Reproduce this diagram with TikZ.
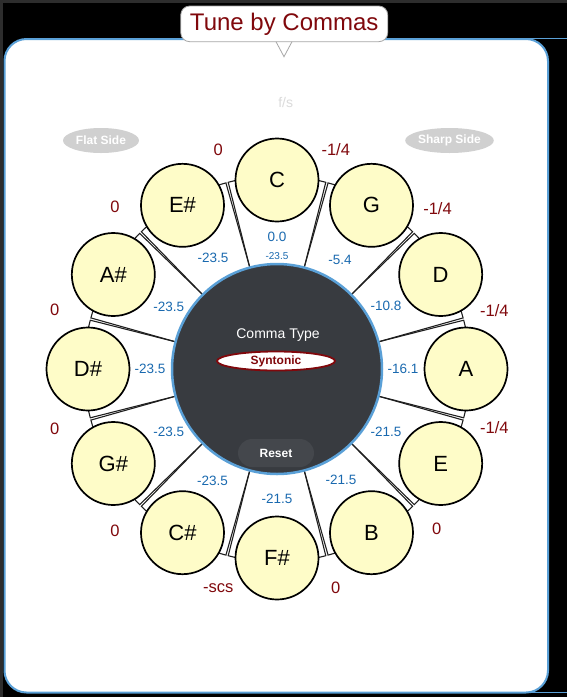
\documentclass[tikz,border=0pt]{standalone}
\usepackage{fontspec}
\setmainfont{Liberation Sans}
\usetikzlibrary{shapes.geometric,calc}
\definecolor{tbred}{RGB}{128,8,12}
\definecolor{tbblue}{RGB}{25,105,175}
\definecolor{notefill}{RGB}{254,252,200}
\definecolor{hubfill}{RGB}{56,59,64}
\definecolor{resetgray}{RGB}{68,71,76}
\definecolor{rimblue}{RGB}{90,160,215}
\definecolor{btngray}{RGB}{208,208,208}
\definecolor{framegray}{RGB}{45,45,45}
\begin{document}
\begin{tikzpicture}[x=1pt,y=-1pt,
  notec/.style={circle, draw=black, line width=1.7pt, fill=notefill, minimum size=83pt, inner sep=0pt, font=\fontsize{22}{24}\selectfont},
  redlab/.style={text=tbred, font=\fontsize{16.5}{18}\selectfont, inner sep=0pt},
  bluelab/.style={text=tbblue, font=\fontsize{13.5}{15}\selectfont, inner sep=0pt},
  spoke/.style={line width=1.1pt, draw=black!88},
  sidebtn/.style={ellipse, fill=btngray, minimum width=76pt, minimum height=25pt, inner sep=0pt, text=white, font=\bfseries\fontsize{12}{14}\selectfont}]
\useasboundingbox (0,0) rectangle (567,697);
% background
\fill[black] (0,0) rectangle (567,697);
\fill[framegray] (0,0) rectangle (567,3);
\fill[framegray] (0,0) rectangle (3,697);
\draw[rimblue, line width=1.5pt] (520,38.5) -- (567,38.5);
\draw[rimblue, line width=1.5pt] (520,692.5) -- (567,692.5);
% panel
\draw[fill=white, draw=rimblue, line width=2pt, rounded corners=22pt] (4.5,39) rectangle (548,692.5);
% header texts and buttons
\node[text=black!14, font=\fontsize{14}{16}\selectfont, inner sep=0pt] (fs) at (285.7,102.7) {f/s};
\node[sidebtn] (flat) at (101,140.5) {Flat Side};
\node[sidebtn] (sharp) at (449.5,140.5) {Sharp Side};
% wedges
\coordinate (O) at (277,369);
\foreach \a in {-90,-60,...,240} {
  \draw[spoke] ([shift={(\a-15:104)}]O) -- ([shift={(\a-14.65:193)}]O)
     arc[start angle=\a-14.65, end angle=\a+14.65, radius=193]
     -- ([shift={(\a+15:104)}]O);
}
% note circles
\node[notec] (nC)  at ([shift={(-90:189)}]O) {C};
\node[notec] (nG)  at ([shift={(-60:189)}]O) {G};
\node[notec] (nD)  at ([shift={(-30:189)}]O) {D};
\node[notec] (nA)  at ([shift={(0:189)}]O) {A};
\node[notec] (nE)  at ([shift={(30:189)}]O) {E};
\node[notec] (nB)  at ([shift={(60:189)}]O) {B};
\node[notec] (nFs) at ([shift={(90:189)}]O) {F\#};
\node[notec] (nCs) at ([shift={(120:189)}]O) {C\#};
\node[notec] (nGs) at ([shift={(150:189)}]O) {G\#};
\node[notec] (nDs) at ([shift={(180:189)}]O) {D\#};
\node[notec] (nAs) at ([shift={(210:189)}]O) {A\#};
\node[notec] (nEs) at ([shift={(240:189)}]O) {E\#};
% red labels
\node[redlab] (r1)  at ([shift={(-75:227)}]O) {-1/4};
\node[redlab] (r2)  at ([shift={(-45:227)}]O) {-1/4};
\node[redlab] (r3)  at ([shift={(-15:225)}]O) {-1/4};
\node[redlab] (r4)  at ([shift={(15:225)}]O) {-1/4};
\node[redlab] (r5)  at ([shift={(45:226)}]O) {0};
\node[redlab] (r6)  at ([shift={(75:227)}]O) {0};
\node[redlab] (r7)  at ([shift={(105:227)}]O) {-scs};
\node[redlab] (r8)  at ([shift={(135:229)}]O) {0};
\node[redlab] (r9)  at ([shift={(165:230)}]O) {0};
\node[redlab] (r10) at ([shift={(195:230)}]O) {0};
\node[redlab] (r11) at ([shift={(225:229)}]O) {0};
\node[redlab] (r12) at ([shift={(255:227)}]O) {0};
% blue labels
\node[bluelab] (bC)  at ([shift={(-90:132)}]O) {0.0};
\node[bluelab, font=\fontsize{10}{12}\selectfont] (bC2) at ([shift={(-90:113)}]O) {-23.5};
\node[bluelab] (bG)  at ([shift={(-60:126)}]O) {-5.4};
\node[bluelab] (bD)  at ([shift={(-30:126)}]O) {-10.8};
\node[bluelab] (bA)  at ([shift={(0:126)}]O) {-16.1};
\node[bluelab] (bE)  at ([shift={(30:126)}]O) {-21.5};
\node[bluelab] (bB)  at ([shift={(60:128)}]O) {-21.5};
\node[bluelab] (bFs) at ([shift={(90:130)}]O) {-21.5};
\node[bluelab] (bCs) at ([shift={(120:129)}]O) {-23.5};
\node[bluelab] (bGs) at ([shift={(150:125)}]O) {-23.5};
\node[bluelab] (bDs) at ([shift={(180:127)}]O) {-23.5};
\node[bluelab] (bAs) at ([shift={(210:125)}]O) {-23.5};
\node[bluelab] (bEs) at ([shift={(240:128)}]O) {-23.5};
% hub
\node[circle, fill=hubfill, minimum size=210pt, inner sep=0pt] (hub) at (O) {};
\begin{scope}
  \clip (O) circle[radius=104];
  \node[fill=resetgray, rounded corners=14pt, minimum width=76pt, minimum height=28pt, inner sep=0pt, text=white, font=\bfseries\fontsize{12}{14}\selectfont] (reset) at (276,453) {Reset};
\end{scope}
\draw[rimblue, line width=2.5pt] (O) circle[radius=105];
\node[text=white, font=\fontsize{14}{16}\selectfont, inner sep=0pt] (ctype) at (278,335) {Comma Type};
\node[ellipse, draw=tbred, line width=1.8pt, fill=white, minimum width=118pt, minimum height=19pt, inner sep=0pt, text=tbred, font=\bfseries\fontsize{12}{14}\selectfont] (synt) at (276,361) {Syntonic};
% title bubble
\node[draw=black!35, line width=0.8pt, fill=white, rounded corners=9pt, minimum width=207pt, minimum height=35.7pt, inner sep=0pt, text=tbred, font=\fontsize{24}{28}\selectfont] (title) at (284.25,23.85) {Tune by Commas};
\coordinate (tipL) at (276,41.7);
\coordinate (tipR) at (292,41.7);
\coordinate (tip) at (284,56.7);
\fill[white] ([yshift=-1.2pt]tipL) -- ([yshift=-1.2pt]tipR) -- (tip) -- cycle;
\draw[black!35, line width=0.8pt] (tipL) -- (tip) -- (tipR);
\end{tikzpicture}
\end{document}
